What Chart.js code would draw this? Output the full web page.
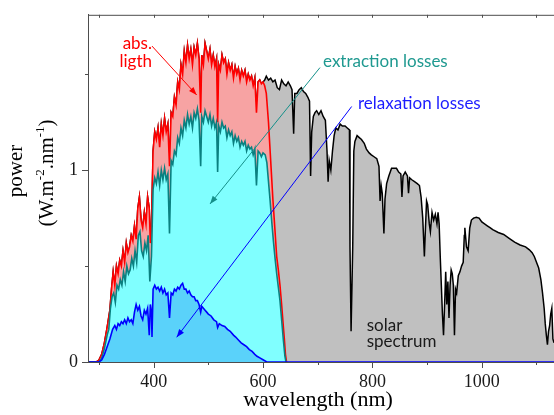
<!DOCTYPE html>
<html lang="en">
<head>
<meta charset="UTF-8" />
<title>Solar spectrum losses</title>
<script src="https://cdn.jsdelivr.net/npm/chart.js"></script>
<style>
  html, body { margin: 0; padding: 0; background: #fff; }
  canvas { display: block; }
</style>
</head>
<body>
<canvas id="chart" width="554" height="415"></canvas>
<script>
// solar spectrum (black line, grey fill)
const solarNm = [280,295,300,305,310,315,320,323,326,329,332,335,338,341,344,347,350,353,356,359,362,365,368,371,374,377,380,383,386,389,392,394,396,399,402,405,408,411,414,417,420,423,426,429,432,435,438,441,444,447,450,453,456,459,462,465,468,471,474,477,480,483,486,488,491,494,497,500,503,506,509,512,515,517,519,522,525,528,531,534,537,540,543,546,549,552,555,558,561,564,567,570,573,576,579,582,585,588,591,594,597,600,
  603,606,610,614,618,622,626,630,634,638,642,646,650,653,656,658,662,666,670,674,678,682,685,687,689,692,695,698,702,706,710,714,717,719,721,724,727,730,733,737,741,745,750,754,758,759,761,762,764,766,768,772,776,780,785,789,794,798,803,808,812,814,816,818,821,823,826,830,835,840,844,848,852,854,856,860,864,866,868,872,877,882,886,889,892,895,897,899,901,904,906,909,912,915,918,920,922,924,926,928,930,932,934,936,938,940,942,944,946,948,950,952,954,957,960,963,966,968,969,972,975,978,981,985,990,995,1000,1005,1010,1015,1020,1030,1040,1050,1060,1070,1080,1087,1092,1096,1100,1104,1108,1111,1114,1116,1118,1120,1122,1124,1126,1128,1130,1132];
const solarPow = [0,0,0.01,0.04,0.10,0.18,0.27,0.38,0.47,0.40,0.50,0.46,0.53,0.50,0.58,0.52,0.62,0.57,0.60,0.66,0.63,0.71,0.64,0.80,0.86,0.74,0.70,0.78,0.72,0.86,0.80,0.62,0.70,1.10,1.20,1.16,1.22,1.12,1.24,1.18,1.27,1.20,1.24,1.02,1.30,1.28,1.38,1.34,1.46,1.42,1.55,1.50,1.62,1.56,1.65,1.58,1.63,1.55,1.64,1.60,1.66,1.58,1.30,1.60,1.55,1.66,1.62,1.58,1.63,1.55,1.60,1.54,1.58,1.25,1.55,1.52,1.60,1.56,1.58,1.50,1.56,1.52,1.55,1.48,1.54,1.50,1.53,1.47,1.52,1.49,1.52,1.46,1.50,1.47,1.49,1.44,1.48,1.30,1.46,1.47,1.45,1.46,
  1.47,1.49,1.47,1.48,1.46,1.47,1.43,1.42,1.47,1.45,1.44,1.46,1.44,1.42,1.19,1.40,1.40,1.42,1.43,1.41,1.40,1.38,1.36,0.97,1.20,1.28,1.30,1.31,1.29,1.31,1.28,1.26,1.10,0.94,1.05,1.00,1.10,1.18,1.22,1.21,1.24,1.23,1.23,1.22,1.21,0.60,0.16,0.16,0.60,1.10,1.15,1.18,1.17,1.16,1.14,1.11,1.09,1.08,1.07,1.06,1.02,0.84,0.92,0.88,0.67,0.85,0.93,0.97,1.01,1.01,1.01,0.99,0.98,0.86,0.97,0.99,0.97,0.88,0.96,0.95,0.94,0.93,0.92,0.86,0.75,0.55,0.70,0.84,0.82,0.72,0.68,0.78,0.74,0.77,0.72,0.78,0.72,0.55,0.40,0.25,0.14,0.30,0.47,0.30,0.42,0.23,0.40,0.48,0.46,0.40,0.14,0.38,0.36,0.45,0.47,0.50,0.52,0.66,0.70,0.60,0.58,0.70,0.74,0.75,0.755,0.75,0.73,0.72,0.71,0.70,0.69,0.675,0.665,0.645,0.625,0.61,0.60,0.585,0.57,0.55,0.52,0.49,0.43,0.36,0.28,0.20,0.14,0.09,0.16,0.19,0.25,0.28,0.12,0.10];

// absorbed light (red)
const absNm = [280,295,300,305,310,315,320,323,326,329,332,335,338,341,344,347,350,353,356,359,362,365,368,371,374,377,380,383,386,389,392,394,396,399,402,405,408,411,414,417,420,423,426,429,432,435,438,441,444,447,450,453,456,459,462,465,468,471,474,477,480,483,486,488,491,494,497,500,503,506,509,512,515,517,519,522,525,528,531,534,537,540,543,546,549,552,555,558,561,564,567,570,573,576,579,582,585,588,591,594,597,600,603,606,610,614,618,622,625,628,631,634,637,639,641,643];
const absPow = [0,0,0.01,0.04,0.10,0.18,0.27,0.38,0.47,0.40,0.50,0.46,0.53,0.50,0.58,0.52,0.62,0.57,0.60,0.66,0.63,0.71,0.64,0.80,0.86,0.74,0.70,0.78,0.72,0.86,0.80,0.62,0.70,1.10,1.20,1.16,1.22,1.12,1.24,1.18,1.27,1.20,1.24,1.02,1.30,1.28,1.38,1.34,1.46,1.42,1.55,1.50,1.62,1.56,1.65,1.58,1.63,1.55,1.64,1.60,1.66,1.58,1.30,1.60,1.55,1.66,1.62,1.58,1.63,1.55,1.60,1.54,1.58,1.25,1.55,1.52,1.60,1.56,1.58,1.50,1.56,1.52,1.55,1.48,1.54,1.50,1.53,1.47,1.52,1.49,1.52,1.46,1.50,1.47,1.49,1.44,1.48,1.30,1.46,1.47,1.45,1.46,1.44,1.40,1.25,1.05,0.85,0.68,0.55,0.48,0.40,0.30,0.19,0.12,0.04,0];

// after extraction losses (teal)
const extNm = [280,300,305,310,315,318,321,324,327,330,333,336,339,342,345,348,351,354,357,360,363,366,369,372,375,378,381,384,387,390,393,396,399,402,405,408,411,414,417,420,423,426,429,432,435,438,441,444,447,450,453,456,459,462,465,468,471,474,477,480,483,486,488,491,494,497,500,503,506,509,512,515,517,519,522,525,528,531,534,537,540,543,546,549,552,555,558,561,564,567,570,573,576,579,582,585,588,591,594,597,600,604,607,610,613,616,619,622,625,628,631,634,637,640,642];
const extPow = [0,0,0.02,0.07,0.14,0.17,0.28,0.34,0.36,0.31,0.40,0.38,0.43,0.40,0.47,0.42,0.50,0.46,0.48,0.54,0.50,0.58,0.52,0.66,0.68,0.58,0.55,0.62,0.58,0.66,0.42,0.55,0.90,0.96,0.93,0.99,0.92,1.00,0.95,1.01,0.95,0.98,0.67,1.05,1.03,1.10,1.08,1.17,1.14,1.22,1.18,1.26,1.22,1.29,1.24,1.28,1.22,1.30,1.27,1.32,1.26,1.02,1.28,1.25,1.31,1.28,1.25,1.29,1.23,1.27,1.22,1.25,0.99,1.23,1.20,1.25,1.22,1.23,1.17,1.21,1.18,1.20,1.14,1.18,1.15,1.17,1.12,1.15,1.13,1.15,1.10,1.13,1.11,1.12,1.08,1.11,0.92,1.10,1.09,1.07,1.09,1.08,1.04,0.94,0.84,0.73,0.63,0.54,0.46,0.39,0.32,0.22,0.12,0.03,0];

// after relaxation losses (blue)
const relNm = [280,300,305,310,315,320,325,329,332,335,338,341,344,347,350,353,356,359,362,365,368,371,374,377,380,383,386,389,392,394,396,397,399,402,405,408,411,414,417,420,423,426,429,432,435,438,441,444,447,450,453,456,459,462,465,468,471,474,477,480,483,486,488,491,494,497,500,505,510,515,517,520,525,530,535,540,546,550,555,560,565,570,575,580,585,589,595,600,607,1132];
const relPow = [0,0,0.01,0.04,0.08,0.12,0.17,0.19,0.17,0.20,0.19,0.21,0.20,0.22,0.20,0.23,0.21,0.22,0.20,0.26,0.30,0.27,0.29,0.24,0.22,0.27,0.25,0.28,0.14,0.30,0.26,0.13,0.38,0.40,0.38,0.39,0.37,0.39,0.36,0.38,0.35,0.36,0.23,0.36,0.35,0.38,0.37,0.39,0.38,0.40,0.41,0.38,0.38,0.36,0.37,0.35,0.34,0.34,0.32,0.32,0.30,0.26,0.29,0.28,0.27,0.26,0.25,0.24,0.22,0.21,0.18,0.20,0.19,0.185,0.17,0.16,0.14,0.13,0.115,0.10,0.09,0.08,0.065,0.055,0.04,0.03,0.02,0.012,0,0];

const serif = '"Liberation Serif", "DejaVu Serif", serif';
const sans = 'Lato, "Open Sans", sans-serif';

function pts(nm, pw) { return nm.map((x, i) => ({ x: x, y: pw[i] })); }

// labels and arrows, anchored in data units (nm, power)
const notes = [
  { text: ['abs.', 'ligth'], nm: 397, pw: [1.632, 1.540], align: 'right', color: '#ff0000' },
  { text: ['extraction losses'], nm: 709.7, pw: [1.540], align: 'left', color: '#1f9990' },
  { text: ['relaxation losses'], nm: 773.6, pw: [1.317], align: 'left', color: '#1c1cff' },
  { text: ['solar', 'spectrum'], nm: 789.5, pw: [0.160, 0.079], align: 'left', color: '#1a1a1a' }
];
const arrows = [
  { from: [397, 1.647], to: [478.7, 1.392], color: '#ff0000' },
  { from: [704.2, 1.535], to: [503.1, 0.824], color: '#14908a' },
  { from: [762.1, 1.332], to: [442.2, 0.129], color: '#0000ff' }
];

function arrow(ctx, x1, y1, x2, y2, color) {
  const a = Math.atan2(y2 - y1, x2 - x1);
  const c = Math.cos(a), s = Math.sin(a);
  ctx.strokeStyle = color; ctx.fillStyle = color; ctx.lineWidth = 1;
  ctx.beginPath(); ctx.moveTo(x1, y1); ctx.lineTo(x2, y2); ctx.stroke();
  ctx.beginPath();
  ctx.moveTo(x2, y2);
  ctx.lineTo(x2 - 8 * c + 3 * s, y2 - 8 * s - 3 * c);
  ctx.lineTo(x2 - 8 * c - 3 * s, y2 - 8 * s + 3 * c);
  ctx.closePath(); ctx.fill();
}

const frame = {
  id: 'frame',
  afterDraw(chart) {
    const { ctx, chartArea: area, scales: { x, y } } = chart;
    ctx.save();
    // frame, ticks
    ctx.strokeStyle = '#4d4d4d';
    ctx.lineWidth = 1;
    ctx.beginPath();
    ctx.moveTo(area.left, area.top + 0.5); ctx.lineTo(area.right, area.top + 0.5);
    ctx.moveTo(area.left + 0.5, area.top); ctx.lineTo(area.left + 0.5, area.bottom);
    x.ticks.forEach(t => {
      const px = Math.round(x.getPixelForValue(t.value)) + 0.5;
      const major = t.value % 200 === 0;
      ctx.moveTo(px, area.top); ctx.lineTo(px, area.top + 3);
      ctx.moveTo(px, area.bottom); ctx.lineTo(px, area.bottom + (major ? 6 : 3));
    });
    y.ticks.forEach(t => {
      const py = Math.round(y.getPixelForValue(t.value)) + 0.5;
      const major = Math.abs(t.value - Math.round(t.value)) < 1e-6;
      ctx.moveTo(area.left, py); ctx.lineTo(area.left - (major ? 6 : 3), py);
    });
    ctx.stroke();

    // arrows and notes
    arrows.forEach(a => arrow(ctx,
      x.getPixelForValue(a.from[0]), y.getPixelForValue(a.from[1]),
      x.getPixelForValue(a.to[0]), y.getPixelForValue(a.to[1]), a.color));
    ctx.font = '17px ' + sans;
    ctx.textBaseline = 'alphabetic';
    notes.forEach(n => {
      ctx.fillStyle = n.color;
      ctx.textAlign = n.align;
      n.text.forEach((line, i) => ctx.fillText(line, x.getPixelForValue(n.nm), y.getPixelForValue(n.pw[i])));
    });

    // axis titles
    ctx.fillStyle = '#000';
    ctx.font = '22px ' + serif;
    ctx.textAlign = 'center';
    ctx.fillText('wavelength (nm)', 318, 406);

    ctx.save();
    ctx.translate(22, 171);
    ctx.rotate(-Math.PI / 2);
    ctx.font = '21px ' + serif;
    ctx.fillText('power', 0, 0);
    ctx.restore();

    ctx.save();
    ctx.translate(52.5, 173);
    ctx.rotate(-Math.PI / 2);
    const parts = [['(W.m', false], ['-2', true], ['.nm', false], ['-1', true], [')', false]];
    const fontFor = sup => sup ? '13px ' + serif : '21px ' + serif;
    let total = 0;
    parts.forEach(p => { ctx.font = fontFor(p[1]); total += ctx.measureText(p[0]).width; });
    let cx = -total / 2;
    ctx.textAlign = 'left';
    parts.forEach(p => {
      ctx.font = fontFor(p[1]);
      ctx.fillText(p[0], cx, p[1] ? -9 : 0);
      cx += ctx.measureText(p[0]).width;
    });
    ctx.restore();
    ctx.restore();
  }
};

const gridOpts = { drawOnChartArea: false, drawTicks: true, tickLength: 6, tickColor: 'rgba(0,0,0,0)' };

new Chart(document.getElementById('chart'), {
  type: 'line',
  data: {
    datasets: [
      { label: 'relaxation losses', data: pts(relNm, relPow), borderColor: '#0000ff', backgroundColor: '#5ad2fa', borderWidth: 1.6, fill: 'origin', order: 1 },
      { label: 'extraction losses', data: pts(extNm, extPow), borderColor: '#0a8080', backgroundColor: '#80ffff', borderWidth: 1.6, fill: 'origin', order: 2 },
      { label: 'abs. ligth', data: pts(absNm, absPow), borderColor: '#ff0000', backgroundColor: '#f7a3a3', borderWidth: 1.6, fill: 'origin', order: 3 },
      { label: 'solar spectrum', data: pts(solarNm, solarPow), borderColor: '#000000', backgroundColor: '#c0c0c0', borderWidth: 1.5, fill: 'origin', order: 4 }
    ]
  },
  options: {
    responsive: false,
    animation: false,
    layout: { padding: { top: 6, right: 0, left: 0, bottom: 0 } },
    elements: { point: { radius: 0 }, line: { tension: 0 } },
    plugins: { legend: { display: false }, tooltip: { enabled: false } },
    scales: {
      x: {
        type: 'linear', min: 280, max: 1132,
        afterFit(s) { s.height = 53; },
        grid: gridOpts,
        border: { display: true, color: '#4d4d4d', width: 1 },
        ticks: {
          stepSize: 100, includeBounds: false, autoSkip: false, maxRotation: 0, padding: 3,
          color: '#1a1a1a', font: { family: serif, size: 18 },
          callback: v => v % 200 === 0 ? String(v) : ''
        }
      },
      y: {
        type: 'linear', min: 0, max: 1.81,
        afterFit(s) { s.width = 88; },
        grid: gridOpts,
        border: { display: true, color: '#4d4d4d', width: 1 },
        ticks: {
          stepSize: 0.5, includeBounds: false, padding: 4,
          color: '#1a1a1a', font: { family: serif, size: 18 },
          callback: v => (v === 0 || v === 1) ? String(v) : ''
        }
      }
    }
  },
  plugins: [frame]
});
</script>
</body>
</html>
